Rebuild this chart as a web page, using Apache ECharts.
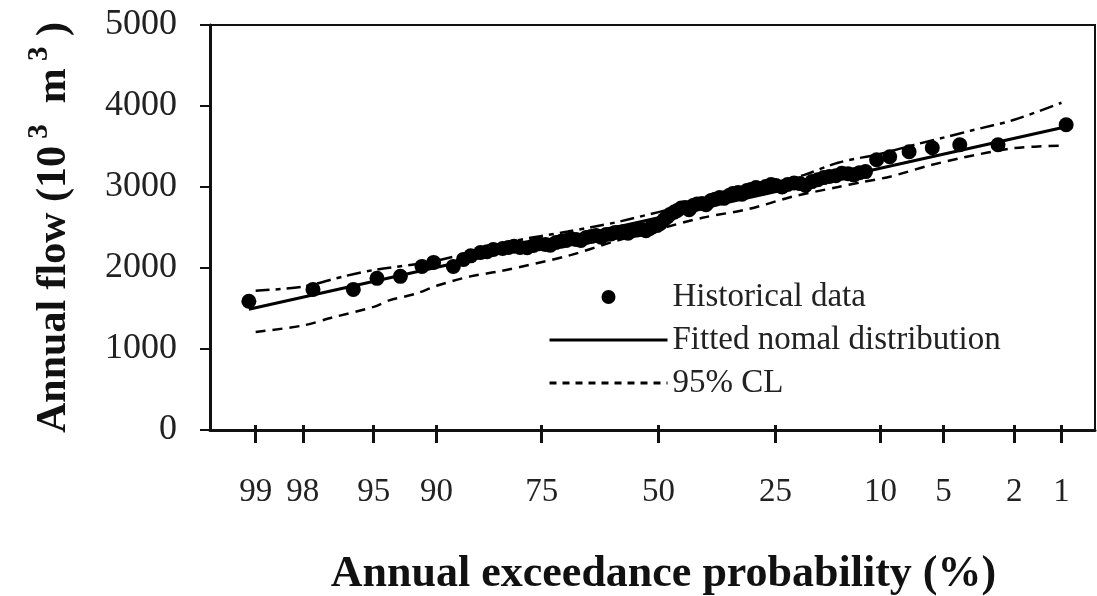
<!DOCTYPE html>
<html>
<head>
<meta charset="utf-8">
<script src="https://cdn.jsdelivr.net/npm/echarts@6/dist/echarts.min.js"></script>
<style>
  html, body { margin: 0; padding: 0; background: #fff; }
  #chart { width: 1097px; height: 596px; }
</style>
</head>
<body>
<div id="chart"></div>
<script>
// exceedance probability (%) tick labels of the normal probability axis
var probTicks = [99, 98, 95, 90, 75, 50, 25, 10, 5, 2, 1];

// historical annual flows (10^3 m^3) at their plotting positions (%)
var histProb = [99.1, 97.7, 96.1, 94.8, 93.2, 91.4, 90.3, 88.2, 87.0, 86.1,
  84.8, 83.9, 83.0, 81.6, 80.7, 79.8, 78.8, 77.6, 76.5, 75.5,
  74.3, 73.4, 72.3, 71.3, 70.3, 69.3, 68.3, 67.3, 66.2, 65.1,
  64.1, 63.0, 61.9, 60.8, 59.9, 58.8, 57.9, 57.0, 55.8, 54.9,
  53.8, 52.9, 52.0, 51.3, 50.3, 49.6, 48.7, 48.0, 47.4, 46.4,
  45.7, 44.8, 43.9, 43.0, 42.1, 41.2, 40.1, 39.2, 38.1, 37.2,
  36.2, 35.3, 34.2, 33.4, 32.3, 31.5, 30.5, 29.7, 28.7, 27.7,
  26.8, 25.8, 24.9, 23.8, 22.8, 21.7, 20.7, 19.8, 18.8, 17.9,
  17.0, 16.2, 15.3, 14.5, 13.7, 13.0, 12.3, 11.6, 10.4, 9.1,
  7.4, 5.7, 4.1, 2.5, 0.93];
var histFlow = [1590, 1736, 1736, 1872, 1897, 2020, 2069, 2020, 2106, 2150,
  2192, 2200, 2229, 2240, 2254, 2270, 2254, 2250, 2278, 2300,
  2291, 2280, 2315, 2330, 2340, 2360, 2352, 2340, 2377, 2390,
  2401, 2380, 2414, 2420, 2438, 2440, 2451, 2430, 2463, 2470,
  2475, 2460, 2488, 2510, 2525, 2550, 2599, 2630, 2660, 2690,
  2709, 2740, 2746, 2720, 2771, 2790, 2796, 2780, 2833, 2850,
  2869, 2860, 2894, 2920, 2931, 2910, 2956, 2970, 2993, 2980,
  3005, 3030, 3017, 3000, 3030, 3050, 3042, 3020, 3067, 3090,
  3116, 3130, 3140, 3170, 3165, 3150, 3177, 3190, 3337, 3374,
  3436, 3485, 3522, 3522, 3768];

// fitted normal distribution (end points)
var fitProb = [99.1, 0.93];
var fitFlow = [1490, 3744];

// 95% confidence limits
var upperProb = [99, 98, 96.5, 95, 90, 80, 70, 60, 50, 40, 30, 20, 15, 10, 7, 5, 3.5, 2, 1];
var upperFlow = [1720, 1770, 1900, 1975, 2090, 2330, 2450, 2560, 2690, 2810, 2950, 3150, 3300, 3410, 3520, 3610, 3700, 3830, 4040];
var lowerProb = [99, 98, 97, 95, 94, 92, 90, 86, 82, 70, 60, 50, 40, 30, 22, 15, 12, 9, 6, 4, 2, 1];
var lowerFlow = [1210, 1290, 1390, 1520, 1600, 1680, 1780, 1900, 1960, 2150, 2330, 2480, 2620, 2730, 2880, 3000, 3060, 3130, 3260, 3360, 3480, 3510];

// inverse standard normal (Acklam)
function normInv(p) {
  var a = [-3.969683028665376e+01, 2.209460984245205e+02, -2.759285104469687e+02, 1.383577518672690e+02, -3.066479806614716e+01, 2.506628277459239e+00];
  var b = [-5.447609879822406e+01, 1.615858368580409e+02, -1.556989798598866e+02, 6.680131188771972e+01, -1.328068155288572e+01];
  var c = [-7.784894002430293e-03, -3.223964580411365e-01, -2.400758277161838e+00, -2.549732539343734e+00, 4.374664141464968e+00, 2.938163982698783e+00];
  var d = [7.784695709041462e-03, 3.224671290700398e-01, 2.445134137142996e+00, 3.754408661907416e+00];
  var pl = 0.02425, q, r;
  if (p < pl) {
    q = Math.sqrt(-2 * Math.log(p));
    return (((((c[0]*q+c[1])*q+c[2])*q+c[3])*q+c[4])*q+c[5]) / ((((d[0]*q+d[1])*q+d[2])*q+d[3])*q+1);
  }
  if (p > 1 - pl) {
    q = Math.sqrt(-2 * Math.log(1 - p));
    return -(((((c[0]*q+c[1])*q+c[2])*q+c[3])*q+c[4])*q+c[5]) / ((((d[0]*q+d[1])*q+d[2])*q+d[3])*q+1);
  }
  q = p - 0.5; r = q * q;
  return (((((a[0]*r+a[1])*r+a[2])*r+a[3])*r+a[4])*r+a[5])*q / (((((b[0]*r+b[1])*r+b[2])*r+b[3])*r+b[4])*r+1);
}
// exceedance % -> position on the probability axis
function toAxis(pct) { return normInv(1 - pct / 100); }

function pairs(px, py) {
  return px.map(function (p, i) { return [toAxis(p), py[i]]; });
}

var tickPos = probTicks.map(toAxis);
function tickLabel(v) {
  var best = 0;
  tickPos.forEach(function (t, i) { if (Math.abs(t - v) < Math.abs(tickPos[best] - v)) best = i; });
  return String(probTicks[best]);
}

var serif = '"Liberation Serif", "Times New Roman", serif';
var chart = echarts.init(document.getElementById('chart'));

chart.setOption({
  animation: false,
  backgroundColor: '#fff',
  grid: {
    left: 210, right: 2, top: 25, bottom: 166,
    outerBoundsMode: 'none',
    show: true, borderColor: '#111', borderWidth: 2
  },
  legend: {
    orient: 'vertical',
    left: 548, top: 280,
    padding: 0,
    itemWidth: 118, itemHeight: 14, itemGap: 9,
    textStyle: { fontFamily: serif, fontSize: 33, lineHeight: 34, color: '#222' },
    data: [
      { name: 'Historical data', icon: 'circle', itemStyle: { color: '#000', opacity: 1 } },
      { name: 'Fitted nomal distribution', itemStyle: { opacity: 0 }, lineStyle: { width: 3, color: '#000' } },
      { name: '95% CL', itemStyle: { opacity: 0 }, lineStyle: { type: [7, 6], width: 3, color: '#000' } }
    ]
  },
  xAxis: [{
    type: 'value',
    min: -2.59, max: 2.52,
    splitLine: { show: false },
    axisLine: { onZero: false, lineStyle: { color: '#111', width: 3 } },
    axisTick: { customValues: tickPos, length: 13, lineStyle: { color: '#111', width: 3 } },
    axisLabel: {
      customValues: tickPos, formatter: tickLabel,
      margin: 46, fontFamily: serif, fontSize: 33, color: '#222'
    },
    name: 'Annual exceedance probability (%)',
    nameLocation: 'middle', nameGap: 123,
    nameTextStyle: { fontFamily: serif, fontSize: 44, fontWeight: 'bold', color: '#111', padding: [0, 0, 0, 22] }
  }, {
    type: 'value',
    position: 'bottom',
    min: -2.59, max: 2.52,
    splitLine: { show: false },
    axisLine: { show: false },
    axisTick: { customValues: tickPos, inside: true, length: 5, lineStyle: { color: '#111', width: 3 } },
    axisLabel: { show: false }
  }],
  yAxis: {
    type: 'value',
    min: 0, max: 5000, interval: 1000,
    splitLine: { show: false },
    axisLine: { show: true, onZero: false, lineStyle: { color: '#111', width: 3 } },
    axisTick: { show: true, length: 10, lineStyle: { color: '#111', width: 2 } },
    axisLabel: { margin: 33, fontFamily: serif, fontSize: 36, color: '#222', formatter: function (v) { return String(v); } },
    name: '{a|Annual flow (10}{s| 3}{a|  m}{s| 3}{a| )}',
    nameLocation: 'middle', nameGap: 127,
    nameTextStyle: {
      rich: {
        a: { fontFamily: serif, fontSize: 42, fontWeight: 'bold', color: '#111', lineHeight: 58 },
        s: { fontFamily: serif, fontSize: 29, fontWeight: 'bold', color: '#111', lineHeight: 22, verticalAlign: 'top' }
      }
    }
  },
  series: [{
    name: 'Historical data',
    type: 'scatter',
    symbol: 'circle',
    symbolSize: 15,
    itemStyle: { color: '#000', opacity: 1 },
    data: pairs(histProb, histFlow),
    z: 3
  }, {
    name: 'Fitted nomal distribution',
    type: 'line',
    symbol: 'none',
    itemStyle: { color: '#000' },
    lineStyle: { color: '#000', width: 3 },
    data: pairs(fitProb, fitFlow),
    z: 4
  }, {
    name: '95% CL',
    type: 'line',
    symbol: 'none',
    smooth: 0.3,
    itemStyle: { color: '#000' },
    lineStyle: { color: '#000', width: 2.5, type: [14, 6, 5, 6] },
    data: pairs(upperProb, upperFlow)
  }, {
    name: '95% CL',
    type: 'line',
    symbol: 'none',
    smooth: 0.3,
    itemStyle: { color: '#000' },
    lineStyle: { color: '#000', width: 2.5, type: [10, 7] },
    data: pairs(lowerProb, lowerFlow)
  }]
});
</script>
</body>
</html>
